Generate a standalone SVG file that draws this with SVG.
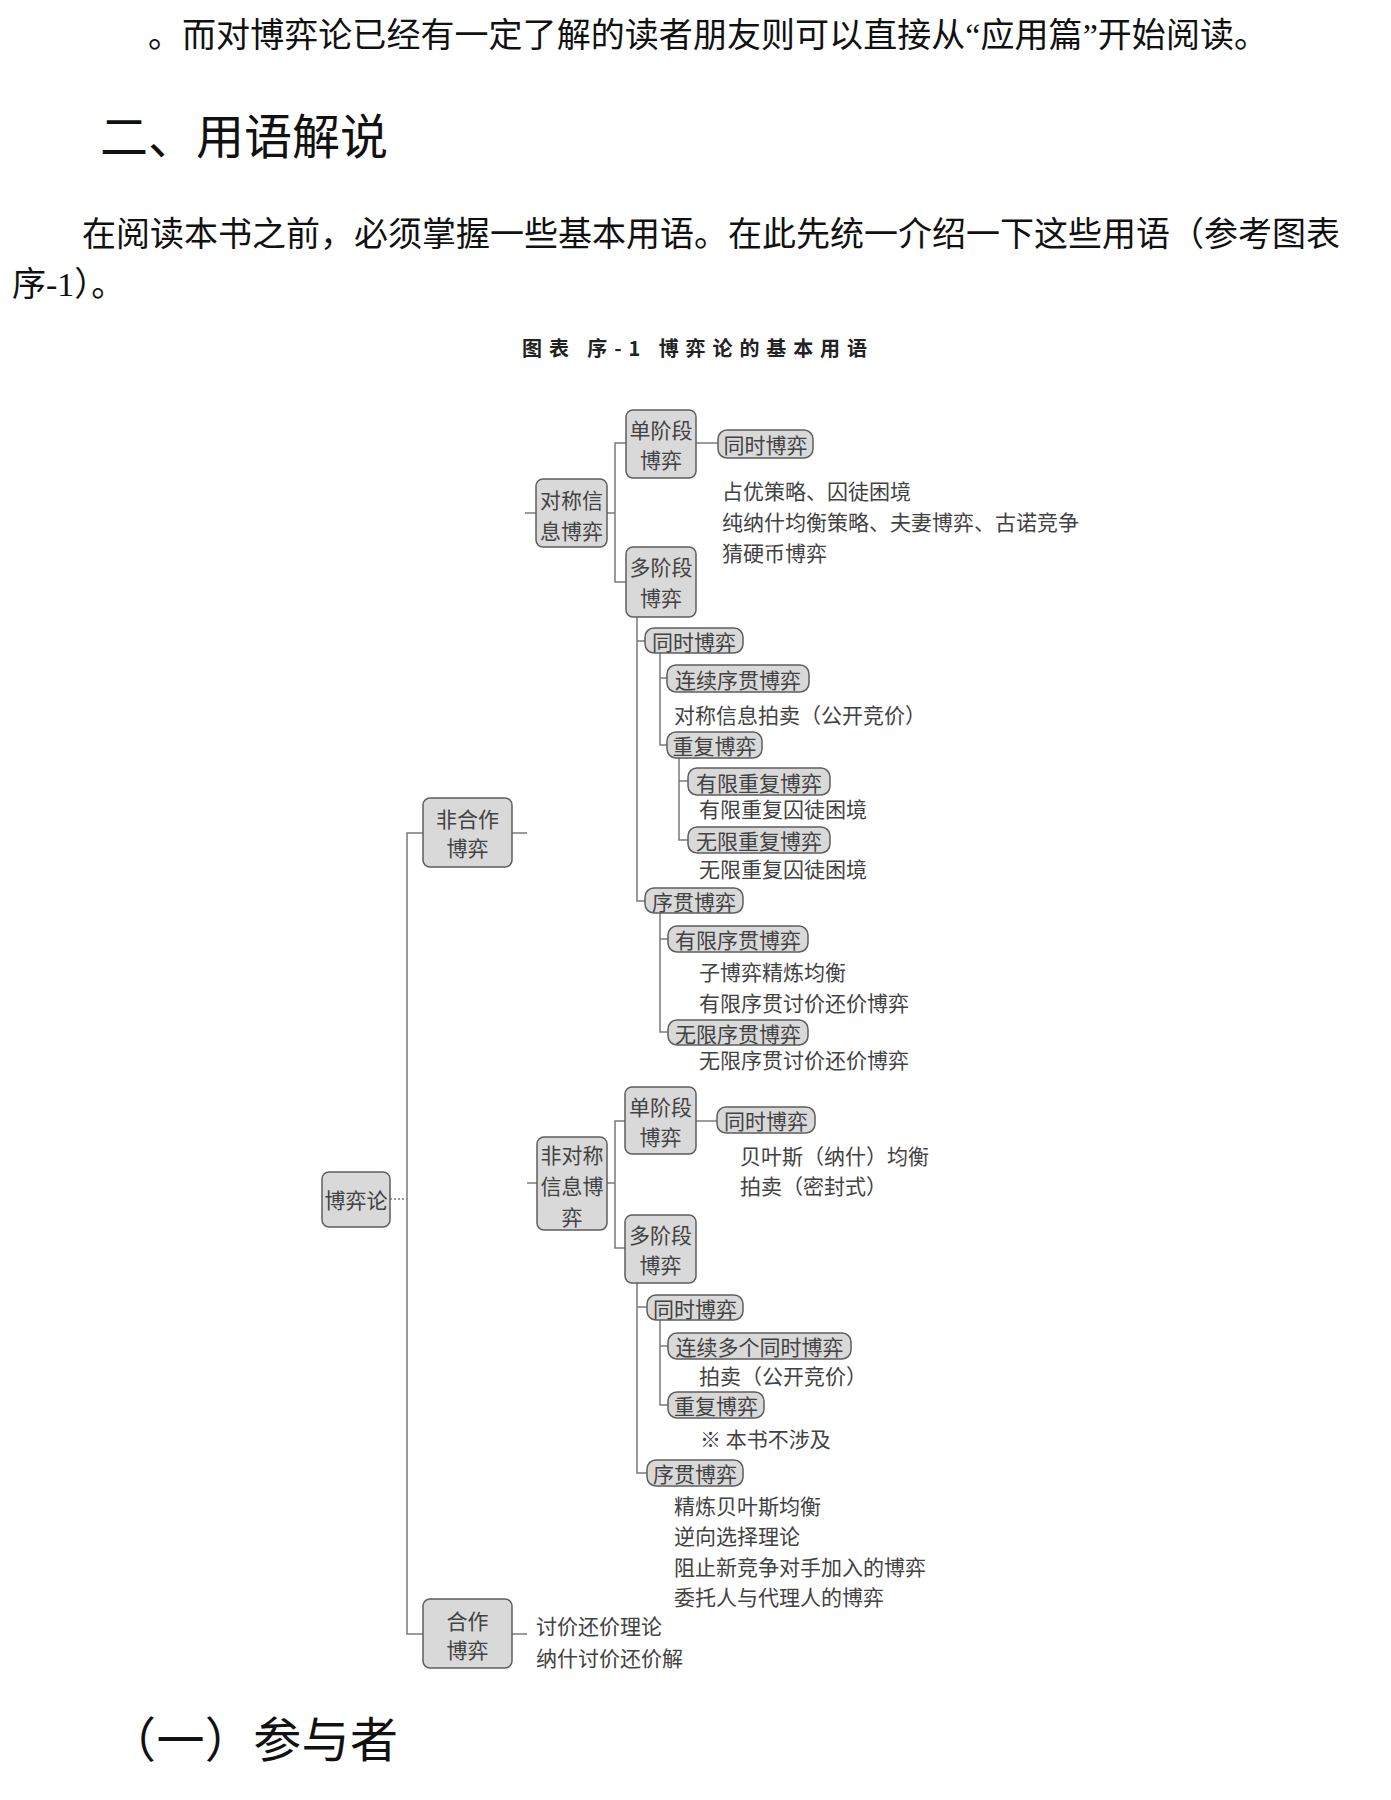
<svg xmlns="http://www.w3.org/2000/svg" width="1391" height="1800" viewBox="0 0 1391 1800">
<style>
.p{font-family:"Liberation Serif","Noto Sans CJK SC",serif;fill:#111}
.cap{font-family:"Noto Sans CJK SC",sans-serif;font-size:20px;font-weight:bold;fill:#222}
.box{fill:#d9d9d9;stroke:#5e5e5e;stroke-width:1.5}
.t{font-family:"Noto Sans CJK SC",sans-serif;font-size:21px;fill:#424242;dominant-baseline:central}
.c{text-anchor:middle}
.ln{stroke:#7a7a7a;stroke-width:1.5;fill:none}
</style>
<rect width="1391" height="1800" fill="#fff"/>
<g id="page-text">
<text class="p" x="148" y="47" font-size="34" textLength="1120" lengthAdjust="spacing">。而对博弈论已经有一定了解的读者朋友则可以直接从“应用篇”开始阅读。</text>
<text class="p" x="100" y="154" font-size="48">二、用语解说</text>
<text class="p" x="82" y="246" font-size="34" textLength="1258" lengthAdjust="spacing">在阅读本书之前，必须掌握一些基本用语。在此先统一介绍一下这些用语（参考图表</text>
<text class="p" x="12" y="296" font-size="34">序-1）。</text>
<text class="cap" x="522" y="356" textLength="345" lengthAdjust="spacing">图表 序-1 博弈论的基本用语</text>
<text class="p" x="108" y="1757" font-size="48" textLength="290" lengthAdjust="spacing">（一）参与者</text>
</g>
<g id="connectors">
<path class="ln" d="M390 1199H407" stroke-dasharray="2 2"/>
<path class="ln" d="M423 833H407V1634H423"/>
<path class="ln" d="M512 833H527"/>
<path class="ln" d="M525 513H536"/>
<path class="ln" d="M527 1183H537"/>
<path class="ln" d="M512 1634H527"/>
<path class="ln" d="M607 513H615"/>
<path class="ln" d="M626 443H615V582H626"/>
<path class="ln" d="M696 443H718"/>
<path class="ln" d="M637 617V901H645M637 641H645"/>
<path class="ln" d="M660 653V745H667M660 678H667"/>
<path class="ln" d="M679 758V840H688M679 781H688"/>
<path class="ln" d="M660 913V1032H668M660 939H668"/>
<path class="ln" d="M607 1183H615"/>
<path class="ln" d="M625 1121H615V1248H625"/>
<path class="ln" d="M696 1121H717"/>
<path class="ln" d="M637 1283V1473H647M637 1307H647"/>
<path class="ln" d="M660 1320V1405H668M660 1346H668"/>
</g>
<g id="n-boyilun"><rect class="box" x="322" y="1172" width="68" height="55" rx="7"/><text class="t c" x="356" y="1199">博弈论</text></g>
<g id="n-feihezuo"><rect class="box" x="423" y="798" width="89" height="69" rx="7"/><text class="t c" x="467.5" y="818">非合作</text><text class="t c" x="467.5" y="847">博弈</text></g>
<g id="n-hezuo"><rect class="box" x="423" y="1599" width="89" height="69" rx="7"/><text class="t c" x="467.5" y="1620">合作</text><text class="t c" x="467.5" y="1649">博弈</text></g>
<g id="n-hezuo-notes"><text class="t" x="536" y="1625">讨价还价理论</text><text class="t" x="536" y="1657">纳什讨价还价解</text></g>
<g id="n-duichen"><rect class="box" x="536" y="479" width="71" height="68" rx="7"/><text class="t c" x="571.5" y="499">对称信</text><text class="t c" x="571.5" y="530">息博弈</text></g>
<g id="n-s-single"><rect class="box" x="626" y="410" width="70" height="68" rx="7"/><text class="t c" x="661" y="429">单阶段</text><text class="t c" x="661" y="459">博弈</text></g>
<g id="n-s-single-sim"><rect class="box" x="718" y="430" width="95" height="28" rx="9"/><text class="t c" x="765.5" y="444">同时博弈</text></g>
<g id="n-s-single-notes"><text class="t" x="722" y="490">占优策略、囚徒困境</text><text class="t" x="722" y="521">纯纳什均衡策略、夫妻博弈、古诺竞争</text><text class="t" x="722" y="552">猜硬币博弈</text></g>
<g id="n-s-multi"><rect class="box" x="626" y="547" width="70" height="70" rx="7"/><text class="t c" x="661" y="566">多阶段</text><text class="t c" x="661" y="597">博弈</text></g>
<g id="n-s-multi-sim"><rect class="box" x="645" y="628" width="98" height="25" rx="9"/><text class="t c" x="694" y="641">同时博弈</text></g>
<g id="n-s-lianxu"><rect class="box" x="667" y="665" width="142" height="27" rx="9"/><text class="t c" x="738" y="678.5">连续序贯博弈</text><text class="t" x="674" y="714">对称信息拍卖（公开竞价）</text></g>
<g id="n-s-rep"><rect class="box" x="667" y="732" width="95" height="26" rx="9"/><text class="t c" x="714.5" y="745">重复博弈</text></g>
<g id="n-s-rep-fin"><rect class="box" x="688" y="768" width="142" height="27" rx="9"/><text class="t c" x="759" y="781.5">有限重复博弈</text><text class="t" x="699" y="808">有限重复囚徒困境</text></g>
<g id="n-s-rep-inf"><rect class="box" x="688" y="827" width="142" height="26" rx="9"/><text class="t c" x="759" y="840">无限重复博弈</text><text class="t" x="699" y="868">无限重复囚徒困境</text></g>
<g id="n-s-seq"><rect class="box" x="645" y="888" width="98" height="25" rx="9"/><text class="t c" x="694" y="900.5">序贯博弈</text></g>
<g id="n-s-seq-fin"><rect class="box" x="668" y="926" width="140" height="26" rx="9"/><text class="t c" x="738" y="939">有限序贯博弈</text><text class="t" x="699" y="971">子博弈精炼均衡</text><text class="t" x="699" y="1002">有限序贯讨价还价博弈</text></g>
<g id="n-s-seq-inf"><rect class="box" x="668" y="1020" width="140" height="25" rx="9"/><text class="t c" x="738" y="1032.5">无限序贯博弈</text><text class="t" x="699" y="1059">无限序贯讨价还价博弈</text></g>
<g id="n-feiduichen"><rect class="box" x="537" y="1137" width="70" height="93" rx="7"/><text class="t c" x="572" y="1154">非对称</text><text class="t c" x="572" y="1185">信息博</text><text class="t c" x="572" y="1216">弈</text></g>
<g id="n-a-single"><rect class="box" x="625" y="1087" width="71" height="67" rx="7"/><text class="t c" x="660.5" y="1106">单阶段</text><text class="t c" x="660.5" y="1136">博弈</text></g>
<g id="n-a-single-sim"><rect class="box" x="717" y="1107" width="98" height="26" rx="9"/><text class="t c" x="766" y="1120">同时博弈</text><text class="t" x="740" y="1155">贝叶斯（纳什）均衡</text><text class="t" x="740" y="1185">拍卖（密封式）</text></g>
<g id="n-a-multi"><rect class="box" x="625" y="1215" width="71" height="68" rx="7"/><text class="t c" x="660.5" y="1234">多阶段</text><text class="t c" x="660.5" y="1264">博弈</text></g>
<g id="n-a-multi-sim"><rect class="box" x="647" y="1295" width="96" height="25" rx="9"/><text class="t c" x="695" y="1307.5">同时博弈</text></g>
<g id="n-a-lianxu"><rect class="box" x="668" y="1333" width="183" height="26" rx="9"/><text class="t c" x="759.5" y="1346">连续多个同时博弈</text><text class="t" x="699" y="1375">拍卖（公开竞价）</text></g>
<g id="n-a-rep"><rect class="box" x="668" y="1392" width="96" height="26" rx="9"/><text class="t c" x="716" y="1405">重复博弈</text><text class="t" x="700" y="1438">※ 本书不涉及</text></g>
<g id="n-a-seq"><rect class="box" x="647" y="1460" width="96" height="26" rx="9"/><text class="t c" x="695" y="1473">序贯博弈</text><text class="t" x="674" y="1505">精炼贝叶斯均衡</text><text class="t" x="674" y="1535">逆向选择理论</text><text class="t" x="674" y="1566">阻止新竞争对手加入的博弈</text><text class="t" x="674" y="1596">委托人与代理人的博弈</text></g>
</svg>
